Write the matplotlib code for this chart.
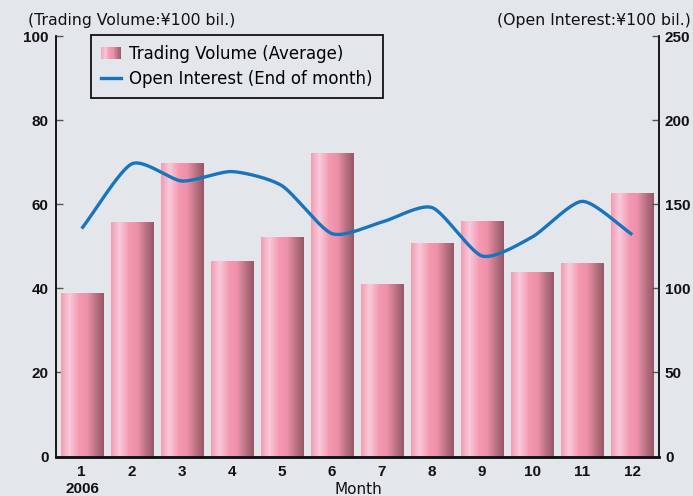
import numpy as np
import matplotlib
matplotlib.use("Agg")
import matplotlib.pyplot as plt
from matplotlib.colors import LinearSegmentedColormap
from matplotlib.legend_handler import HandlerBase
from matplotlib.patches import Rectangle
from matplotlib.lines import Line2D

months = [1, 2, 3, 4, 5, 6, 7, 8, 9, 10, 11, 12]
month_labels = ["1", "2", "3", "4", "5", "6", "7", "8", "9", "10", "11", "12"]
trading_volume = [38.8, 55.7, 69.7, 46.4, 52.1, 72.1, 41.0, 50.7, 55.9, 43.8, 46.0, 62.6]
open_interest = [135.5, 174.0, 163.8, 169.4, 161.0, 132.5, 139.4, 148.0, 119.2, 130.5, 151.7, 131.9]
left_ticks = [0, 20, 40, 60, 80, 100]
right_ticks = [0, 50, 100, 150, 200, 250]

BG = "#e3e7eb"
LINE_C = "#1874bd"
grad_cmap = LinearSegmentedColormap.from_list(
    "barg",
    [(0.0, "#f29cb2"), (0.2, "#f8cadb"), (0.42, "#f599b1"),
     (0.62, "#ec8fa8"), (0.82, "#b87282"), (1.0, "#965767")])

NUM_FONT = ["Liberation Sans Narrow", "Liberation Sans", "DejaVu Sans"]
TXT_FONT = ["DejaVu Sans"]

fig = plt.figure(figsize=(6.93, 4.96), dpi=100, facecolor=BG)
ax = fig.add_axes([0.0804, 0.0796, 0.8710, 0.8478])
ax.set_facecolor(BG)
ax2 = ax.twinx()
ax.set_zorder(0)
ax2.set_zorder(1)
ax2.patch.set_visible(False)

bars = ax.bar(months, trading_volume, width=0.84, color="none", edgecolor="none", zorder=2)
grad = np.linspace(0, 1, 256).reshape(1, -1)
for b in bars:
    x0, y0 = b.get_x(), b.get_y()
    w, h = b.get_width(), b.get_height()
    im = ax.imshow(grad, cmap=grad_cmap, aspect="auto",
                   extent=[x0, x0 + w, y0, y0 + h], zorder=2, interpolation="bilinear")
    im.set_clip_path(b)

# smoothed (cardinal spline) rendering through the data points
xs = np.array(months, dtype=float)
ys = np.array(open_interest, dtype=float)
tension = 0.7
n = len(xs)
mx = np.zeros(n)
my = np.zeros(n)
for i in range(n):
    a = max(i - 1, 0)
    c = min(i + 1, n - 1)
    mx[i] = tension * (xs[c] - xs[a]) / (c - a)
    my[i] = tension * (ys[c] - ys[a]) / (c - a)
sx, sy = [], []
for i in range(n - 1):
    t = np.linspace(0, 1, 40, endpoint=(i == n - 2))
    h00 = 2 * t**3 - 3 * t**2 + 1
    h10 = t**3 - 2 * t**2 + t
    h01 = -2 * t**3 + 3 * t**2
    h11 = t**3 - t**2
    sx.extend(h00 * xs[i] + h10 * mx[i] + h01 * xs[i + 1] + h11 * mx[i + 1])
    sy.extend(h00 * ys[i] + h10 * my[i] + h01 * ys[i + 1] + h11 * my[i + 1])
ax2.plot(sx, sy, color=LINE_C, lw=2.4, solid_capstyle="butt", zorder=3)

ax.set_xlim(0.48, 12.54)
ax.set_ylim(0, 100)
ax2.set_ylim(0, 250)
ax.set_yticks(left_ticks)
ax2.set_yticks(right_ticks)
ax.set_xticks(months)
ax.set_xticklabels(month_labels)

for a in (ax, ax2):
    a.spines["top"].set_visible(False)
    for s in ("left", "right"):
        a.spines[s].set_color("#111111")
        a.spines[s].set_linewidth(1.1)
    a.spines["bottom"].set_color("#111111")
    a.spines["bottom"].set_linewidth(1.8)

ax.tick_params(axis="y", direction="in", length=5, width=1, color="#555555", pad=5)
ax2.tick_params(axis="y", direction="in", length=5, width=1, color="#555555", pad=4)
ax.tick_params(axis="x", length=0, pad=6)
for lab in ax.get_yticklabels() + ax2.get_yticklabels() + ax.get_xticklabels():
    lab.set_fontfamily(NUM_FONT)
    lab.set_fontweight("bold")
    lab.set_fontsize(11)
    lab.set_color("#111111")

fig.text(28 / 693, 1 - 20 / 496, "(Trading Volume:¥100 bil.)", ha="left", va="center",
         fontsize=11.3, family=TXT_FONT, color="#111111")
fig.text(691 / 693, 1 - 20 / 496, "(Open Interest:¥100 bil.)", ha="right", va="center",
         fontsize=11.3, family=TXT_FONT, color="#111111")
fig.text(82 / 693, 1 - 489 / 496, "2006", ha="center", va="center", fontsize=11,
         fontweight="bold", family=NUM_FONT, color="#111111")
fig.text(358 / 693, 1 - 490 / 496, "Month", ha="center", va="center", fontsize=11,
         family=TXT_FONT, color="#111111")


class GradHandler(HandlerBase):
    def create_artists(self, legend, orig_handle, xdescent, ydescent, width, height, fontsize, trans):
        k = 14
        arts = []
        for i in range(k):
            r = Rectangle((-xdescent + width * i / k, -ydescent), width / k + 0.3, height,
                          facecolor=grad_cmap((i + 0.5) / k), edgecolor="none", transform=trans)
            arts.append(r)
        return arts


proxy = Rectangle((0, 0), 1, 1)
line_h = Line2D([], [], color=LINE_C, lw=2.4)
leg = ax2.legend([proxy, line_h], ["Trading Volume (Average)", "Open Interest (End of month)"],
                 handler_map={Rectangle: GradHandler()},
                 loc="upper left", bbox_to_anchor=(0.0585, 1.003), borderaxespad=0,
                 frameon=True, fancybox=False,
                 edgecolor="#111111", facecolor=BG, framealpha=1, borderpad=0.6,
                 handlelength=1.2, handleheight=0.8, handletextpad=0.5, labelspacing=0.45,
                 prop={"family": TXT_FONT, "size": 12})
leg.get_frame().set_linewidth(1.3)

fig.savefig("out.png", dpi=100, facecolor=BG)
